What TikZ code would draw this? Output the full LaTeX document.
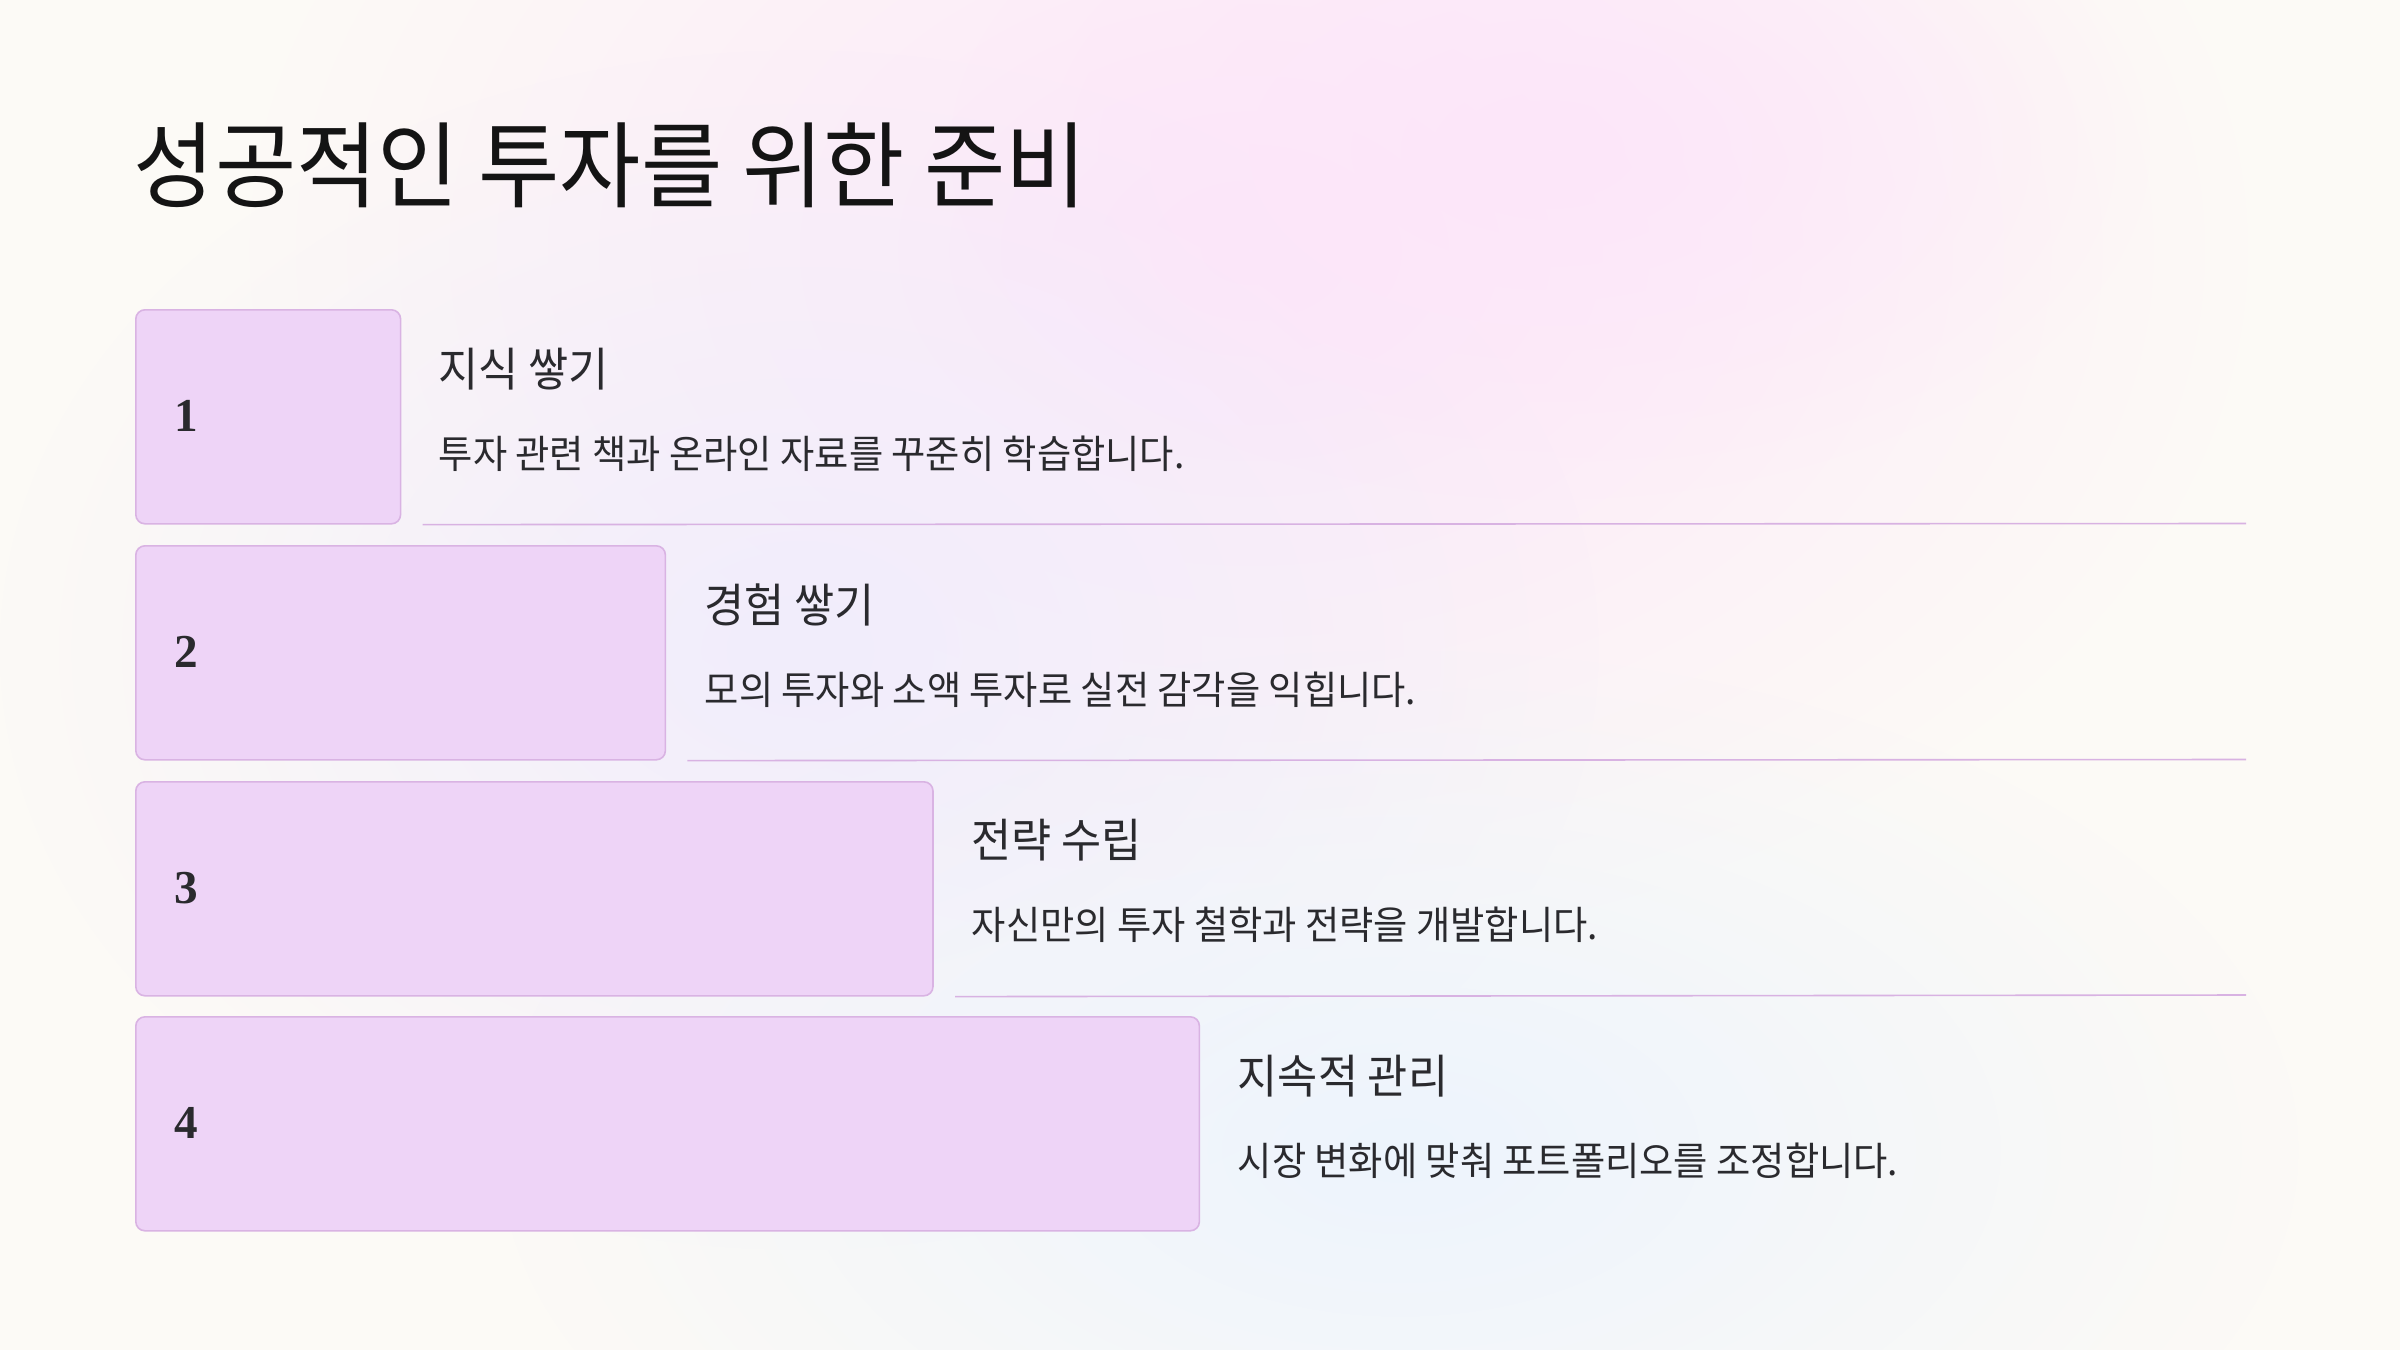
\documentclass[tikz,border=0pt]{standalone}
\usepackage{fontspec}
\setmainfont{Noto Sans CJK KR}
\newfontfamily\krfont[FakeStretch=0.94]{Noto Sans CJK KR}
\newfontfamily\krdesc[FakeStretch=0.955]{Noto Sans CJK KR}
\newfontfamily\numfont{Liberation Serif}
\usetikzlibrary{fadings}
\definecolor{bgbase}{HTML}{FCFAF6}
\definecolor{blobpink}{HTML}{FDE6FA}
\definecolor{bloblav}{HTML}{F1EDFC}
\definecolor{blobblue}{HTML}{EDF4FD}
\definecolor{boxfill}{HTML}{EED4F7}
\definecolor{boxline}{HTML}{D9B3E3}
\definecolor{ruleline}{HTML}{D8B2E2}
\definecolor{titlecol}{HTML}{141414}
\definecolor{textcol}{HTML}{2A2A2E}
\tikzfading[name=softfade, inner color=transparent!0, outer color=transparent!100]
\begin{document}
\begin{tikzpicture}[x=0.25pt,y=-0.25pt,
  stepbox/.style={draw=boxline, fill=boxfill, line width=0.4pt, rounded corners=2.3pt, anchor=north west, minimum height=53.5pt, inner sep=0pt},
  numlabel/.style={anchor=center, inner sep=0pt, text=textcol, font=\numfont\bfseries\fontsize{11.8pt}{13pt}\selectfont},
  headlabel/.style={anchor=west, inner sep=0pt, text=textcol, font=\krfont\fontsize{11.6pt}{14pt}\selectfont},
  desclabel/.style={anchor=west, inner sep=0pt, text=textcol, font=\krdesc\fontsize{9.75pt}{12pt}\selectfont},
  sepline/.style={draw=ruleline, line width=0.4pt}]
\useasboundingbox (0,0) rectangle (2400,1350);
% background
\fill[bgbase] (0,0) rectangle (2400,1350);
\fill[blobpink, path fading=softfade] (1250,250) ellipse (1000 and 700);
\fill[bloblav, path fading=softfade] (800,650) ellipse (800 and 600);
\fill[blobblue, path fading=softfade] (1400,1150) ellipse (900 and 500);
\fill[blobpink, path fading=softfade] (1550,150) ellipse (600 and 350);
% title
\node[anchor=west, inner sep=0pt, text=titlecol, font=\krfont\fontsize{23.5pt}{28pt}\selectfont] (title) at (133,165) {성공적인 투자를 위한 준비};
% boxes
\node[stepbox, minimum width=66.2pt] (b1) at (135,309) {};
\node[stepbox, minimum width=132.4pt] (b2) at (135,545) {};
\node[stepbox, minimum width=199.3pt] (b3) at (135,781) {};
\node[stepbox, minimum width=265.9pt] (b4) at (135,1016) {};
% numbers
\node[numlabel] (n1) at (186,416) {1};
\node[numlabel] (n2) at (186,652) {2};
\node[numlabel] (n3) at (186,888) {3};
\node[numlabel] (n4) at (186,1123) {4};
% separator lines
\coordinate (e1) at (2246,523.5);
\coordinate (e2) at (2246,759.5);
\coordinate (e3) at (2246,995);
\draw[sepline] ([xshift=5.3pt]b1.south east) -- (e1);
\draw[sepline] ([xshift=5.3pt]b2.south east) -- (e2);
\draw[sepline] ([xshift=5.3pt]b3.south east) -- (e3);
% headings and descriptions
\node[headlabel] (h1) at (438,369) {지식 쌓기};
\node[desclabel] (d1) at (438,454) {투자 관련 책과 온라인 자료를 꾸준히 학습합니다.};
\node[headlabel] (h2) at (704,605) {경험 쌓기};
\node[desclabel] (d2) at (704,690) {모의 투자와 소액 투자로 실전 감각을 익힙니다.};
\node[headlabel] (h3) at (971,840) {전략 수립};
\node[desclabel] (d3) at (971,925) {자신만의 투자 철학과 전략을 개발합니다.};
\node[headlabel] (h4) at (1237,1076) {지속적 관리};
\node[desclabel] (d4) at (1237,1161) {시장 변화에 맞춰 포트폴리오를 조정합니다.};
\end{tikzpicture}
\end{document}
